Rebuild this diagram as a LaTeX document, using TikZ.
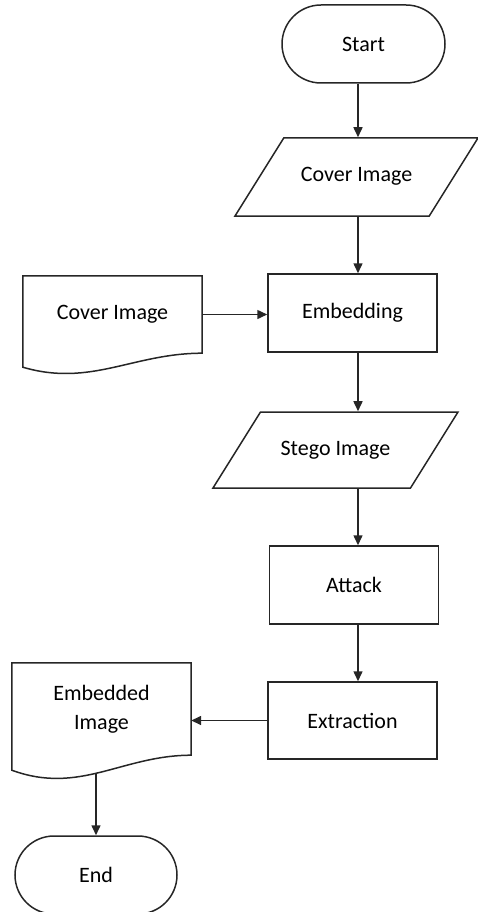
\documentclass[tikz,border=0pt]{standalone}
\usepackage{fontspec}
\setmainfont{Carlito}
\usepackage{xcolor}
\usetikzlibrary{arrows.meta,positioning,calc,shapes.geometric,shapes.misc}
\colorlet{fline}{black!85}
\newcommand\flowfont{\fontsize{22}{29}\selectfont}
\tikzset{
  % every box: plain outline, text centred
  proc/.style  = {rectangle, draw=fline, line width=1.5pt, fill=white,
                  minimum width=169pt, minimum height=78pt, align=center,
                  inner sep=3pt, font=\flowfont},
  term/.style  = {rounded rectangle, draw=fline, line width=1.5pt,
                  minimum width=169pt, minimum height=78pt, align=center,
                  inner sep=3pt, font=\flowfont},
  io/.style    = {trapezium, trapezium left angle=58, trapezium right angle=122,
                  trapezium stretches body, draw=fline, line width=1.5pt,
                  minimum width=#1, text height=15pt, text depth=5pt,
                  inner xsep=2pt, inner ysep=29pt, font=\flowfont},
  io/.default  = 243pt,
  doc/.style   = {rectangle, minimum width=179pt, minimum height=#1,
                  align=center, inner sep=3pt, font=\flowfont},
  doc/.default = 77pt,
  shp/.style   = {draw=fline, line width=1.5pt},
  arr/.style   = {-{Triangle[length=10pt,width=9pt]}, line width=1.5pt, fline},
}
% wavy-bottom outline round a doc node
\newcommand\docoutline[3]{%
  \draw[shp] (#1.south east) -- (#1.north east) -- (#1.north west)
    -- ([yshift=-#2]#1.south west)
    .. controls ([xshift=68pt,yshift=-#3]#1.south west)
    and ([xshift=-69pt]#1.south east) .. (#1.south east) -- cycle;}

\begin{document}
\begin{tikzpicture}[x=1pt,y=-1pt]
\useasboundingbox (0,0) rectangle (478,912);
\coordinate (ax) at (358,0);

\node[term] (start)   at (363.5,44)  {Start};
\node[io]   (cover)   at (356.5,177) {Cover Image};
\node[proc] (embed)   at (352.5,313) {Embedding};
\node[doc]  (coverdoc) at (112.5,314.5) {Cover Image};
\docoutline{coverdoc}{14pt}{34pt}
\node[io=245pt, inner ysep=28pt] (stego) at (335.5,450) {Stego Image};
\node[proc] (attack)  at (354,585)   {Attack};
\node[proc, minimum height=77pt] (extract) at (352.5,720.5) {Extraction};
\node[doc=92pt] (embdoc) at (101.5,709) {Embedded\\Image};
\docoutline{embdoc}{15pt}{40pt}
\node[term, minimum width=168pt] (end) at (96,875) {End};

\draw[arr] (start.south -| ax) -- (cover.north -| ax);
\draw[arr] (cover.south -| ax) -- (embed.north -| ax);
\draw[arr] (coverdoc.east) -- (coverdoc.east -| embed.west);
\draw[arr] (embed.south -| ax) -- (stego.north -| ax);
\draw[arr] (stego.south -| ax) -- (attack.north -| ax);
\draw[arr] (attack.south -| ax) -- (extract.north -| ax);
\draw[arr] (extract.west) -- (extract.west -| embdoc.east);
\draw[arr] ([yshift=-19pt]embdoc.south -| end.north) -- (end.north);
\end{tikzpicture}
\end{document}
